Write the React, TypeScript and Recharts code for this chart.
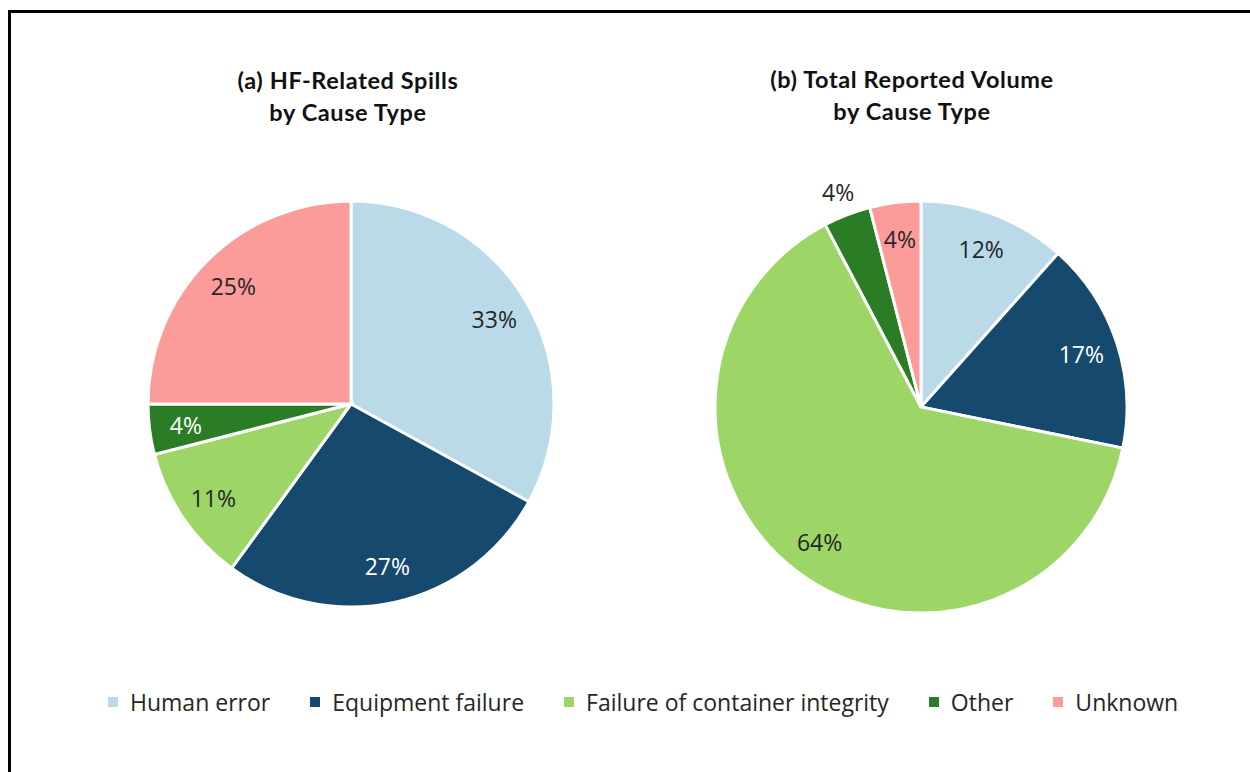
import { PieChart, Pie, Cell } from "recharts";

const causes = [
  "Human error",
  "Equipment failure",
  "Failure of container integrity",
  "Other",
  "Unknown",
];
const colors = ["#BAD9E9", "#154A6E", "#9DD667", "#2A7D25", "#FB9C9A"];
const labelColors = ["#262626", "#ffffff", "#262626", "#ffffff", "#262626"];

// share of spills (%) and share of reported volume (%)
const spillShare = [33, 27, 11, 4, 25];
const volumeShare = [11.6, 16.6, 64.1, 3.7, 4.0];

const spillData = causes.map((name, i) => ({ name, value: spillShare[i] }));
const volumeData = causes.map((name, i) => ({ name, value: volumeShare[i] }));

const RAD = Math.PI / 180;
const FONT = "'Open Sans', 'Noto Sans', sans-serif";

const makeLabel = (outsideIndex: number) => (props: any) => {
  const { cx, cy, midAngle, outerRadius, percent, index } = props;
  const outside = index === outsideIndex;
  const r = outerRadius * (outside ? 1.12 : 0.82);
  const x = cx + r * Math.cos(-midAngle * RAD);
  const y = cy + r * Math.sin(-midAngle * RAD);
  return (
    <text
      x={x}
      y={y}
      textAnchor="middle"
      dominantBaseline="central"
      fill={outside ? "#262626" : labelColors[index]}
      style={{ fontFamily: FONT, fontSize: 23 }}
    >
      {`${Math.round(percent * 100)}%`}
    </text>
  );
};

const titleStyle: React.CSSProperties = {
  position: "absolute",
  width: 400,
  textAlign: "center",
  fontFamily: "Lato, sans-serif",
  fontWeight: 700,
  fontSize: 23.5,
  letterSpacing: 0.6,
  lineHeight: "32px",
  color: "#111",
};

export default function App() {
  return (
    <div
      style={{
        position: "fixed",
        left: 0,
        top: 0,
        width: 1250,
        height: 772,
        overflow: "hidden",
        background: "#fff",
      }}
    >
      <div
        style={{
          position: "absolute",
          left: 8,
          top: 10,
          width: 1300,
          height: 800,
          border: "3px solid #000",
        }}
      />
      <div style={{ ...titleStyle, left: 148, top: 64 }}>
        (a) HF-Related Spills
        <br />
        by Cause Type
      </div>
      <div style={{ ...titleStyle, left: 712, top: 63 }}>
        (b) Total Reported Volume
        <br />
        by Cause Type
      </div>
      <div style={{ position: "absolute", left: 0, top: 0 }}>
        <PieChart
          width={1250}
          height={772}
          margin={{ top: 0, right: 0, bottom: 0, left: 0 }}
        >
          <Pie
            data={spillData}
            dataKey="value"
            nameKey="name"
            cx={351}
            cy={404}
            outerRadius={203}
            startAngle={90}
            endAngle={-270}
            stroke="#ffffff"
            strokeWidth={3}
            labelLine={false}
            label={makeLabel(-1)}
            isAnimationActive={false}
          >
            {spillData.map((d, i) => (
              <Cell key={d.name} fill={colors[i]} />
            ))}
          </Pie>
          <Pie
            data={volumeData}
            dataKey="value"
            nameKey="name"
            cx={921}
            cy={407}
            outerRadius={206}
            startAngle={90}
            endAngle={-270}
            stroke="#ffffff"
            strokeWidth={3}
            labelLine={false}
            label={makeLabel(3)}
            isAnimationActive={false}
          >
            {volumeData.map((d, i) => (
              <Cell key={d.name} fill={colors[i]} />
            ))}
          </Pie>
        </PieChart>
      </div>
      <div
        style={{
          position: "absolute",
          left: 108,
          top: 686,
          display: "flex",
          alignItems: "center",
          fontFamily: FONT,
          fontSize: 23,
          color: "#262626",
          whiteSpace: "nowrap",
        }}
      >
        {causes.map((c, i) => (
          <div
            key={c}
            style={{ display: "flex", alignItems: "center", marginRight: 40 }}
          >
            <span
              style={{
                display: "inline-block",
                width: 10,
                height: 10,
                background: colors[i],
                marginRight: 12,
              }}
            />
            <span>{c}</span>
          </div>
        ))}
      </div>
    </div>
  );
}
